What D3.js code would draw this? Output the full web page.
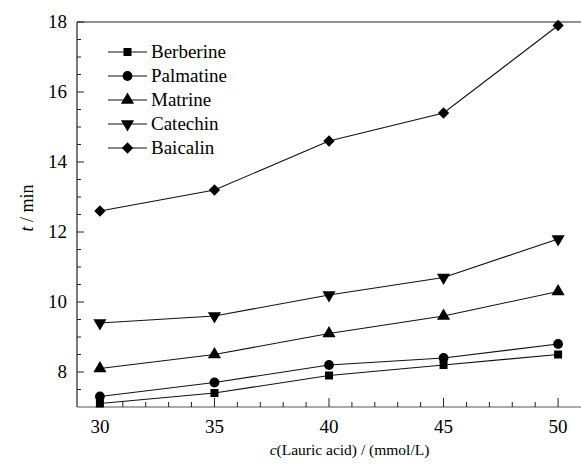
<!DOCTYPE html>
<html>
<head>
<meta charset="utf-8">
<script src="https://cdn.jsdelivr.net/npm/d3@7"></script>
<style>
  body { margin: 0; background: #fff; font-family: "Liberation Serif", serif; }
  svg text { font-family: "Liberation Serif", "DejaVu Serif", serif !important; }
</style>
</head>
<body>
<div id="chart"></div>
<script>
const concentrations = [30, 35, 40, 45, 50];
const berberine = [7.1, 7.4, 7.9, 8.2, 8.5];
const palmatine = [7.3, 7.7, 8.2, 8.4, 8.8];
const matrine = [8.1, 8.5, 9.1, 9.6, 10.3];
const catechin = [9.4, 9.6, 10.2, 10.7, 11.8];
const baicalin = [12.6, 13.2, 14.6, 15.4, 17.9];
const seriesNames = ["Berberine", "Palmatine", "Matrine", "Catechin", "Baicalin"];
const yTickLabels = [8, 10, 12, 14, 16, 18];
const xTickLabels = [30, 35, 40, 45, 50];

const width = 581, height = 464;
const margin = { top: 22, right: 0, bottom: 57, left: 77 };

const svg = d3.select("#chart").append("svg")
  .attr("width", width)
  .attr("height", height);

const x = d3.scaleLinear().domain([29, 51]).range([margin.left, width - margin.right]);
const y = d3.scaleLinear().domain([7, 18]).range([height - margin.bottom, margin.top]);

const series = [berberine, palmatine, matrine, catechin, baicalin].map((vals, i) => ({
  name: seriesNames[i],
  values: vals.map((v, j) => ({ c: concentrations[j], t: v }))
}));

// marker shapes per series (diamond = rotated square)
const sym = [
  d3.symbol().type(d3.symbolSquare).size(64),
  d3.symbol().type(d3.symbolCircle).size(75),
  d3.symbol().type(d3.symbolTriangle).size(75),
  d3.symbol().type(d3.symbolTriangle).size(75),
  d3.symbol().type(d3.symbolSquare).size(64)
];
const rot = [0, 0, 0, 180, 45];

// frame
svg.append("line")
  .attr("x1", x(29)).attr("x2", width)
  .attr("y1", y(18)).attr("y2", y(18))
  .attr("stroke", "#222").attr("stroke-width", 1.2);

// y axis
const yAxis = svg.append("g");
yAxis.append("line")
  .attr("x1", x(29)).attr("x2", x(29))
  .attr("y1", y(18)).attr("y2", y(7))
  .attr("stroke", "#222").attr("stroke-width", 1.2);
yAxis.selectAll(".ymin")
  .data(d3.range(7.5, 18, 0.5).filter(v => v % 2 !== 0))
  .join("line")
  .attr("x1", x(29)).attr("x2", x(29) + 4)
  .attr("y1", d => y(d)).attr("y2", d => y(d))
  .attr("stroke", "#222");
yAxis.selectAll(".ymaj")
  .data(yTickLabels)
  .join("line")
  .attr("x1", x(29)).attr("x2", x(29) + 7)
  .attr("y1", d => y(d)).attr("y2", d => y(d))
  .attr("stroke", "#222");
yAxis.selectAll("text")
  .data(yTickLabels)
  .join("text")
  .attr("x", x(29) - 10)
  .attr("y", d => y(d) + 6)
  .attr("text-anchor", "end")
  .style("font-size", "19px")
  .text(d => d);

// x axis
const xAxis = svg.append("g");
xAxis.append("line")
  .attr("x1", x(29)).attr("x2", width)
  .attr("y1", y(7)).attr("y2", y(7))
  .attr("stroke", "#555").attr("stroke-width", 1.2);
xAxis.selectAll(".xmin")
  .data(d3.range(30, 51, 1).filter(v => v % 5 !== 0))
  .join("line")
  .attr("x1", d => x(d)).attr("x2", d => x(d))
  .attr("y1", y(7)).attr("y2", y(7) - 5)
  .attr("stroke", "#222");
xAxis.selectAll(".xmaj")
  .data(xTickLabels)
  .join("line")
  .attr("x1", d => x(d)).attr("x2", d => x(d))
  .attr("y1", y(7)).attr("y2", y(7) - 9)
  .attr("stroke", "#222");
xAxis.selectAll("text")
  .data(xTickLabels)
  .join("text")
  .attr("x", d => x(d))
  .attr("y", y(7) + 26)
  .attr("text-anchor", "middle")
  .style("font-size", "19px")
  .text(d => d);

// axis titles
const xt = svg.append("text")
  .attr("x", 349.5)
  .attr("y", 455)
  .attr("text-anchor", "middle")
  .style("font-size", "15.5px");
xt.append("tspan").style("font-style", "italic").text("c");
xt.append("tspan").text("(Lauric acid) / (mmol/L)");

const yt = svg.append("text")
  .attr("transform", `translate(33, 208) rotate(-90)`)
  .attr("text-anchor", "middle")
  .style("font-size", "18px");
yt.append("tspan").style("font-style", "italic").text("t");
yt.append("tspan").text(" / min");

// lines
const line = d3.line().x(d => x(d.c)).y(d => y(d.t));
const g = svg.append("g");
series.forEach((s, i) => {
  g.append("path")
    .datum(s.values)
    .attr("d", line)
    .attr("fill", "none")
    .attr("stroke", "#111")
    .attr("stroke-width", 1.1);
  g.selectAll(".m" + i)
    .data(s.values)
    .join("path")
    .attr("d", sym[i])
    .attr("transform", d => `translate(${x(d.c)},${y(d.t)}) rotate(${rot[i]})`)
    .attr("fill", "#000");
});

// legend
const legend = svg.append("g");
series.forEach((s, i) => {
  const ly = 52 + i * 24;
  legend.append("line")
    .attr("x1", 108).attr("x2", 147)
    .attr("y1", ly).attr("y2", ly)
    .attr("stroke", "#111").attr("stroke-width", 1.1);
  legend.append("path")
    .attr("d", sym[i])
    .attr("transform", `translate(127.5,${ly}) rotate(${rot[i]})`)
    .attr("fill", "#000");
  legend.append("text")
    .attr("x", 151)
    .attr("y", ly + 6)
    .style("font-size", "19px")
    .text(s.name);
});
</script>
</body>
</html>
